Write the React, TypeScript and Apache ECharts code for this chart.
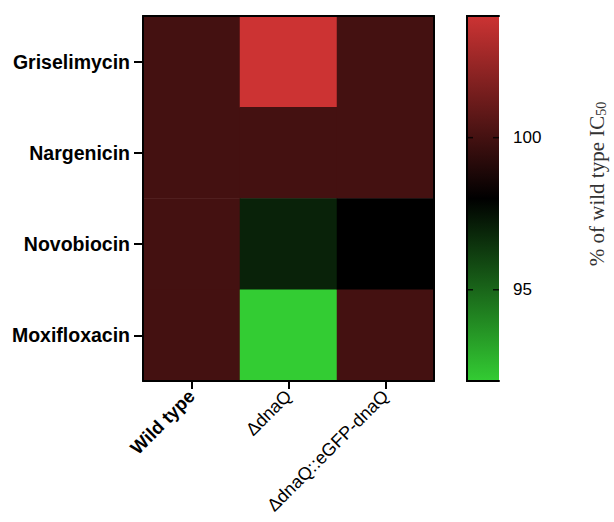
import React, { useEffect, useRef } from "react";
import * as echarts from "echarts";

// Strains (columns) and compounds (rows, top to bottom)
const strains = ["Wild type", "ΔdnaQ", "ΔdnaQ::eGFP-dnaQ"];
const compounds = ["Griselimycin", "Nargenicin", "Novobiocin", "Moxifloxacin"];

// % of wild type IC50, one array per strain, in compound order
const wildType = [100, 100, 100, 100];
const dnaQ = [104, 100, 97, 92];
const dnaQComplemented = [100, 100, 98, 100];

// Colour scale range, its stops (low to high) and tick labels
const scaleMin = 92;
const scaleMax = 104;
const scaleColors = ["#33cc33", "#000000", "#cc3333"];
const scaleTicks = [95, 100];

export default function App() {
  const ref = useRef<HTMLDivElement>(null);

  useEffect(() => {
    document.body.style.margin = "0";
    if (!ref.current) return;
    const chart = echarts.init(ref.current, null, { renderer: "svg" });

    const columns = [wildType, dnaQ, dnaQComplemented];
    const data: number[][] = [];
    columns.forEach((col, x) =>
      col.forEach((v, y) => data.push([x, y, v]))
    );

    // Inward tick marks on both edges of the colour bar
    const barTicks = scaleTicks.flatMap((v) => [
      { value: [0, v], symbolOffset: [3, 0] },
      { value: [1, v], symbolOffset: [-3, 0] },
    ]);

    const sans = "Liberation Sans, Arial, sans-serif";
    const serif = "Liberation Serif, Times New Roman, serif";
    const line = { show: true, lineStyle: { color: "#000", width: 2 } };

    // Vertical gradient for the colour bar, high values at the top
    const barGradient = new echarts.graphic.LinearGradient(
      0,
      1,
      0,
      0,
      scaleColors.map((c, i) => ({ offset: i / (scaleColors.length - 1), color: c }))
    );

    const hidden = { show: false };

    chart.setOption({
      animation: false,
      backgroundColor: "#fff",
      grid: [
        { left: 143, top: 16, width: 291, height: 365, outerBoundsMode: "none", containLabel: false },
        {
          left: 467,
          top: 16,
          width: 32,
          height: 365,
          outerBoundsMode: "none",
          containLabel: false,
          show: true,
          backgroundColor: barGradient,
          borderWidth: 0,
        },
      ],
      xAxis: [
        {
          type: "category",
          gridIndex: 0,
          data: strains,
          position: "bottom",
          z: 10,
          axisLine: line,
          axisTick: { show: true, alignWithLabel: true, length: 8, lineStyle: { color: "#000", width: 2 } },
          axisLabel: {
            rotate: 45,
            margin: 12,
            interval: 0,
            fontFamily: sans,
            fontSize: 18,
            color: "#000",
            formatter: (v: string) => (v === "Wild type" ? "{b|Wild type}" : v),
            rich: {
              b: { fontFamily: sans, fontSize: 18.5, fontWeight: "bold", color: "#000" },
            },
          },
          splitLine: hidden,
        },
        {
          type: "category",
          gridIndex: 0,
          data: strains,
          position: "top",
          z: 10,
          axisLine: line,
          axisTick: hidden,
          axisLabel: hidden,
        },
        {
          type: "value",
          gridIndex: 1,
          min: 0,
          max: 1,
          position: "bottom",
          z: 10,
          axisLine: line,
          axisTick: hidden,
          axisLabel: hidden,
          splitLine: hidden,
        },
        {
          type: "value",
          gridIndex: 1,
          min: 0,
          max: 1,
          position: "top",
          z: 10,
          axisLine: line,
          axisTick: hidden,
          axisLabel: hidden,
          splitLine: hidden,
        },
      ],
      yAxis: [
        {
          type: "category",
          gridIndex: 0,
          data: compounds,
          inverse: true,
          position: "left",
          z: 10,
          axisLine: line,
          axisTick: { show: true, alignWithLabel: true, length: 9, lineStyle: { color: "#000", width: 2 } },
          axisLabel: {
            margin: 13,
            fontFamily: sans,
            fontSize: 19.5,
            fontWeight: "bold",
            color: "#000",
          },
          splitLine: hidden,
        },
        {
          type: "category",
          gridIndex: 0,
          data: compounds,
          inverse: true,
          position: "right",
          z: 10,
          axisLine: line,
          axisTick: hidden,
          axisLabel: hidden,
        },
        {
          type: "value",
          gridIndex: 1,
          min: scaleMin,
          max: scaleMax,
          position: "right",
          z: 10,
          axisLine: line,
          axisTick: hidden,
          axisLabel: {
            show: true,
            margin: 14,
            customValues: scaleTicks,
            fontFamily: sans,
            fontSize: 17,
            color: "#000",
          },
          splitLine: hidden,
        },
        {
          type: "value",
          gridIndex: 1,
          min: scaleMin,
          max: scaleMax,
          position: "left",
          z: 10,
          axisLine: line,
          axisTick: hidden,
          axisLabel: hidden,
          splitLine: hidden,
        },
      ],
      visualMap: {
        type: "continuous",
        min: scaleMin,
        max: scaleMax,
        seriesIndex: 0,
        show: false,
        inRange: { color: scaleColors },
      },
      series: [
        {
          type: "heatmap",
          xAxisIndex: 0,
          yAxisIndex: 0,
          data,
          label: hidden,
        },
        {
          type: "scatter",
          xAxisIndex: 2,
          yAxisIndex: 2,
          data: barTicks,
          symbol: "rect",
          symbolSize: [6, 1.5],
          itemStyle: { color: "#000" },
          z: 5,
          silent: true,
        },
      ],
      graphic: [
        {
          type: "text",
          x: 597,
          y: 184,
          rotation: Math.PI / 2,
          style: {
            text: "% of wild type IC{sub|50}",
            fontFamily: serif,
            fontSize: 21,
            fill: "#333",
            align: "center",
            verticalAlign: "middle",
            rich: {
              sub: {
                fontFamily: serif,
                fontSize: 14,
                fill: "#333",
                padding: [9, 0, 0, 0],
              },
            },
          },
        },
      ],
    });

    return () => chart.dispose();
  }, []);

  return <div ref={ref} style={{ width: 614, height: 522 }} />;
}
